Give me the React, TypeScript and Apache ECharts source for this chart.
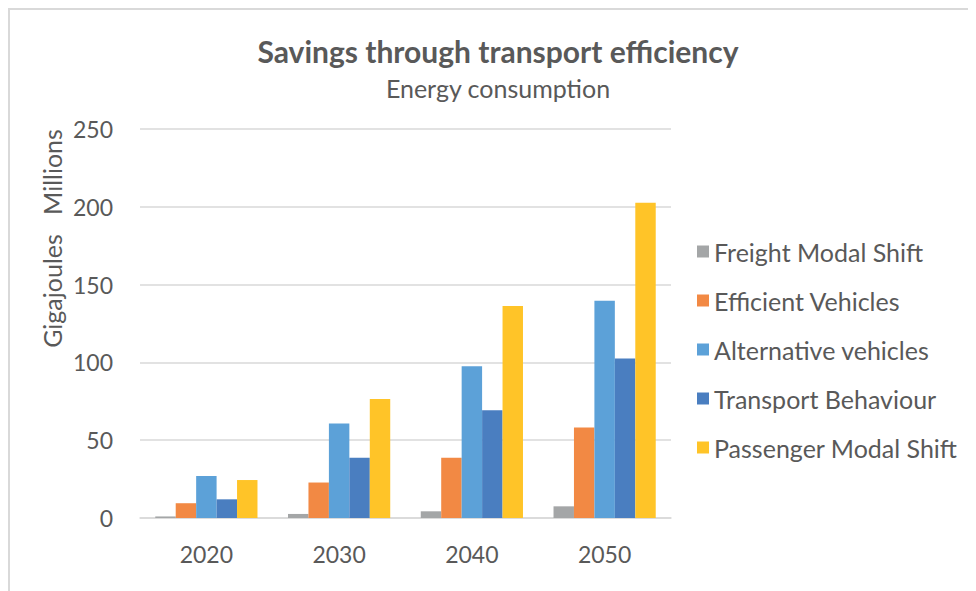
import React, { useEffect, useRef } from "react";
import * as echarts from "echarts";

const categories = ["2020", "2030", "2040", "2050"];
const seriesNames = [
  "Freight Modal Shift",
  "Efficient Vehicles",
  "Alternative vehicles",
  "Transport Behaviour",
  "Passenger Modal Shift",
];
const freightModalShift = [1, 2.6, 4.3, 7.5];
const efficientVehicles = [9.5, 22.8, 38.8, 58.1];
const alternativeVehicles = [27, 60.7, 97.6, 139.6];
const transportBehaviour = [12, 38.8, 69.3, 102.5];
const passengerModalShift = [24.4, 76.4, 136.2, 202.6];
const colors = ["#A4A6A7", "#F28944", "#5CA1D8", "#4A7EC0", "#FFC428"];

const FONT = "Lato, 'Open Sans', sans-serif";
const TEXT = "#595959";

export default function App() {
  const ref = useRef<HTMLDivElement>(null);
  useEffect(() => {
    if (!ref.current) return;
    const chart = echarts.init(ref.current, undefined, { renderer: "svg" });
    const values = [
      freightModalShift,
      efficientVehicles,
      alternativeVehicles,
      transportBehaviour,
      passengerModalShift,
    ];
    chart.setOption({
      animation: false,
      color: colors,
      textStyle: { fontFamily: FONT },
      graphic: [
        {
          type: "rect",
          shape: { x: 1, y: 1, width: 2000, height: 2000 },
          style: { fill: "none", stroke: "#d9d9d9", lineWidth: 2 },
          silent: true,
        },
        {
          type: "text",
          x: 490,
          y: 43,
          style: {
            text: "Savings through transport efficiency",
            fill: TEXT,
            font: `bold 30px ${FONT}`,
            textAlign: "center",
            textVerticalAlign: "middle",
          },
        },
        {
          type: "text",
          x: 490,
          y: 80,
          style: {
            text: "Energy consumption",
            fill: TEXT,
            font: `25px ${FONT}`,
            textAlign: "center",
            textVerticalAlign: "middle",
          },
        },
        {
          type: "text",
          x: 44,
          y: 164,
          rotation: Math.PI / 2,
          style: {
            text: "Millions",
            fill: TEXT,
            font: `25px ${FONT}`,
            textAlign: "center",
            textVerticalAlign: "middle",
          },
        },
        {
          type: "text",
          x: 44,
          y: 283,
          rotation: Math.PI / 2,
          style: {
            text: "Gigajoules",
            fill: TEXT,
            font: `25px ${FONT}`,
            textAlign: "center",
            textVerticalAlign: "middle",
          },
        },
      ],
      legend: {
        orient: "vertical",
        left: 684,
        top: 226,
        itemWidth: 12,
        itemHeight: 12,
        itemGap: 24,
        icon: "rect",
        data: seriesNames,
        textStyle: { color: TEXT, fontSize: 25, fontFamily: FONT },
      },
      grid: { left: 132, top: 121, width: 531, height: 389 },
      xAxis: {
        type: "category",
        data: categories,
        axisLine: { lineStyle: { color: "#d9d9d9", width: 1.5 } },
        axisTick: { length: 8, lineStyle: { color: "#d9d9d9", width: 1.5 } },
        axisLabel: { color: TEXT, fontSize: 23, margin: 24, fontFamily: FONT },
      },
      yAxis: {
        type: "value",
        min: 0,
        max: 250,
        interval: 50,
        axisLine: { show: false },
        axisTick: { show: false },
        axisLabel: { color: TEXT, fontSize: 23, margin: 27, fontFamily: FONT },
        splitLine: { lineStyle: { color: "#d9d9d9", width: 1.5 } },
      },
      series: seriesNames.map((name, i) => ({
        name,
        type: "bar",
        data: values[i],
        barGap: "0%",
        barCategoryGap: "23%",
        itemStyle: { color: colors[i] },
      })),
    });
    return () => chart.dispose();
  }, []);
  return <div ref={ref} style={{ width: 968, height: 583 }} />;
}
